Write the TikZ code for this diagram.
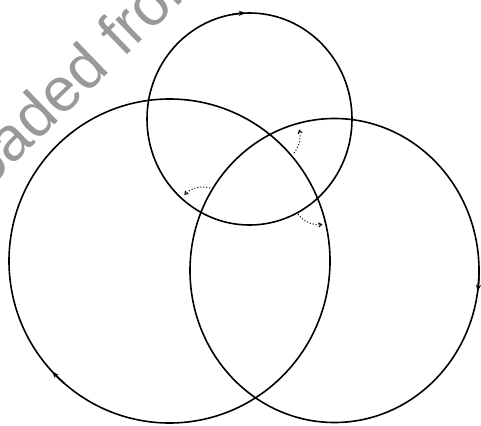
\documentclass[tikz,border=0pt]{standalone}
\usepackage{fontspec}
\newfontfamily\wmfont{Liberation Sans}
\usetikzlibrary{arrows.meta}
\tikzset{
  circ/.style={line width=1.6pt, black},
  tipline/.style={line width=1.6pt, -{Stealth[length=7pt,width=5pt]}},
  dotarc/.style={line width=1pt, dotted, -{Straight Barb[length=3pt,width=4pt]}},
  wmark/.style={rotate=44, anchor=base west, text=black!40, inner sep=0pt,
    font=\wmfont\fontsize{62}{62}\selectfont}
}
\begin{document}
\begin{tikzpicture}[x=1pt,y=-1pt]
\useasboundingbox (0,0) rectangle (481,425);
\clip (0,0) rectangle (481,425);
% watermark
\node[wmark] (wm) at (-137,310) {Downloaded from};
% centres
\coordinate (cT) at (249.5,119);
\coordinate (cL) at (169.5,261);
\coordinate (cR) at (334.5,270.5);
% circles
\draw[circ] (cT) ellipse [x radius=102.5pt, y radius=106pt];
\draw[circ] (cL) ellipse [x radius=160.5pt, y radius=162pt];
\draw[circ] (cR) ellipse [x radius=144.5pt, y radius=152pt];
% direction arrows
\draw[tipline] ([shift={(100:102.5pt and 106pt)}]cT) arc[start angle=100, end angle=92, x radius=102.5pt, y radius=106pt];
\draw[tipline] ([shift={(229:160.5pt and 162pt)}]cL) arc[start angle=229, end angle=223, x radius=160.5pt, y radius=162pt];
\draw[tipline] ([shift={(-1:144.5pt and 152pt)}]cR) arc[start angle=-1, end angle=-8, x radius=144.5pt, y radius=152pt];
% intersection points
\coordinate (iA) at (203,213);
\coordinate (iB) at (273,136);
\coordinate (iC) at (320,197);
% dotted angle arcs
\draw[dotarc] ([shift={(74:26pt)}]iA) arc[start angle=74, end angle=136, radius=26pt];
\draw[dotarc] ([shift={(-39:27pt)}]iB) arc[start angle=-39, end angle=14, radius=27pt];
\draw[dotarc] ([shift={(218:28pt)}]iC) arc[start angle=218, end angle=277, radius=27pt];
\end{tikzpicture}
\end{document}
